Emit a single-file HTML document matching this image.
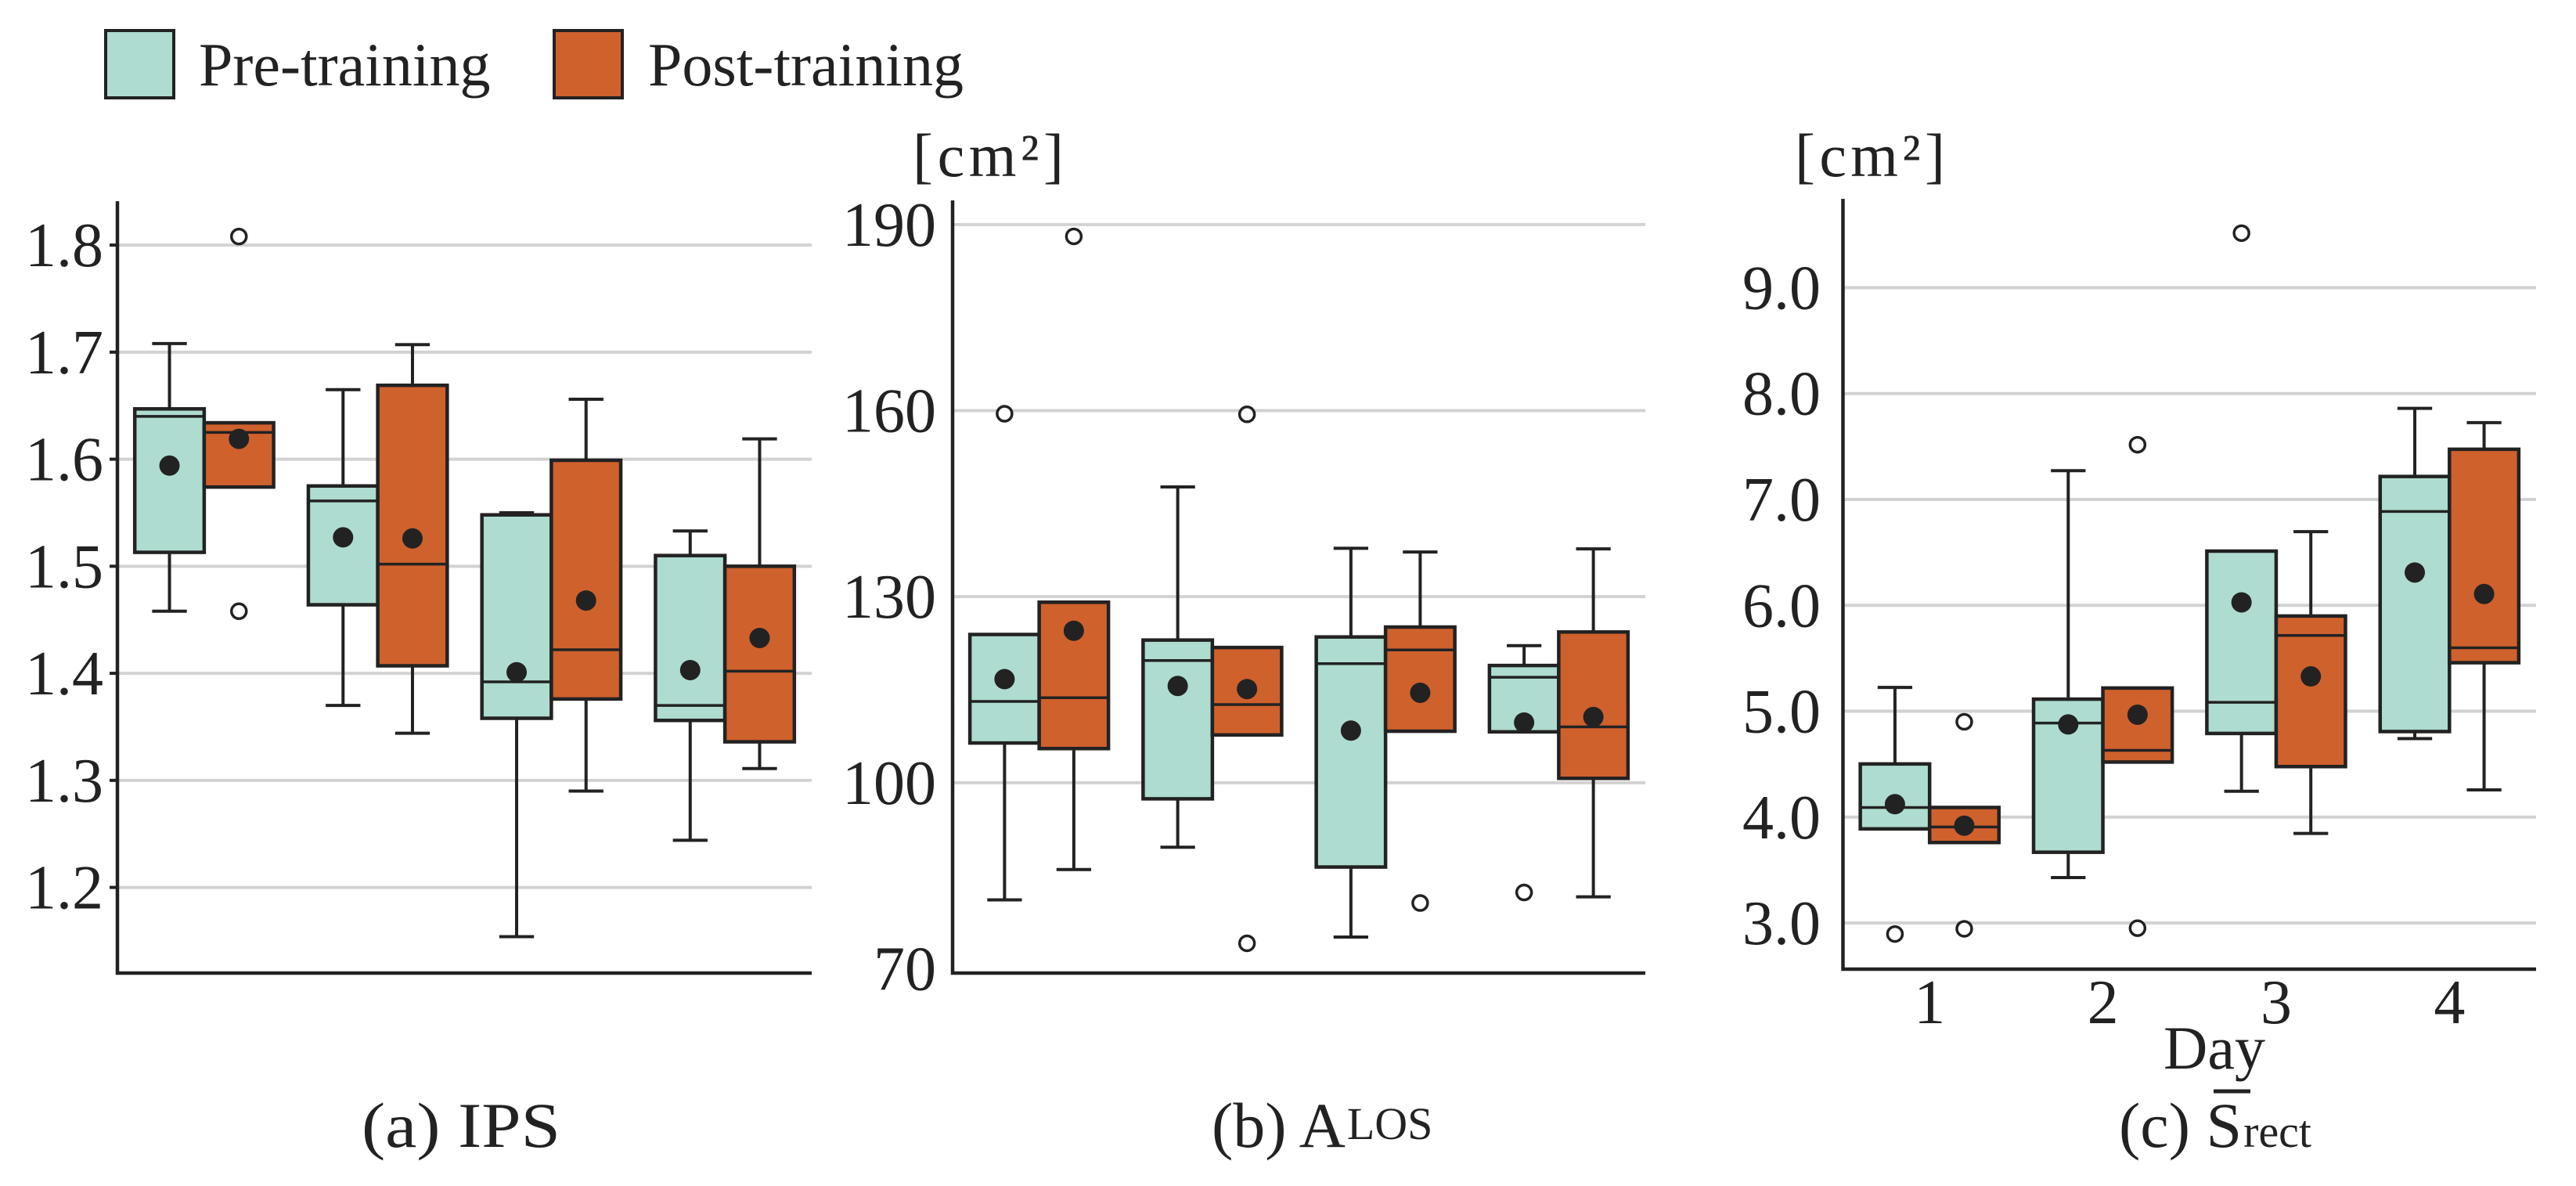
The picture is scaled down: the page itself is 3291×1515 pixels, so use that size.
<!DOCTYPE html>
<html><head><meta charset="utf-8"><style>
html,body{margin:0;padding:0;background:#fff;}
svg{display:block;font-family:"Liberation Serif",serif;}
</style></head><body>
<svg id="fig" width="3291" height="1515" viewBox="0 0 3291 1515" xmlns="http://www.w3.org/2000/svg">
<g>
 <rect x="135" y="39" width="87" height="86" fill="#aedcd0" stroke="#222" stroke-width="4"/>
 <text x="254" y="109" font-size="78" fill="#222">Pre-training</text>
 <rect x="708" y="39" width="87" height="86" fill="#cf612d" stroke="#222" stroke-width="4"/>
 <text x="828" y="109" font-size="78" fill="#222">Post-training</text>
</g>
<text x="462" y="1465" font-size="82" fill="#222" textLength="254" lengthAdjust="spacingAndGlyphs">(a) IPS</text>
<text x="1548" y="1465" font-size="82" fill="#222">(b) A<tspan font-size="58" dx="2" dy="-10">LOS</tspan></text>
<text x="2707" y="1465" font-size="82" fill="#222">(c) S<tspan font-size="58" dx="2">rect</tspan></text>
<line x1="2828" y1="1394" x2="2875" y2="1394" stroke="#222" stroke-width="5"/>
<text x="1166" y="225" font-size="78" fill="#222" textLength="193">[cm²]</text>
<text x="2293" y="225" font-size="78" fill="#222" textLength="192">[cm²]</text>
<text x="2829" y="1365" font-size="78" fill="#222" text-anchor="middle">Day</text>
</svg>
<script>
// ---- data ----
const days = ["1","2","3","4"];
// Panel A (IPS)
const aPreHi  = [1.708,1.665,1.550,1.533];
const aPreQ3  = [1.647,1.575,1.548,1.510];
const aPreMed = [1.640,1.561,1.392,1.370];
const aPreQ1  = [1.513,1.464,1.358,1.356];
const aPreLo  = [1.458,1.370,1.154,1.244];
const aPreMean= [1.594,1.527,1.401,1.403];
const aPreOut = [[],[],[],[]];
const aPostHi  = [1.634,1.707,1.656,1.619];
const aPostQ3  = [1.634,1.669,1.599,1.500];
const aPostMed = [1.625,1.502,1.422,1.402];
const aPostQ1  = [1.574,1.407,1.376,1.336];
const aPostLo  = [1.574,1.344,1.290,1.311];
const aPostMean= [1.619,1.526,1.468,1.433];
const aPostOut = [[1.808,1.458],[],[],[]];
const aTicks = [1.2,1.3,1.4,1.5,1.6,1.7,1.8];
const aTickLabels = ["1.2","1.3","1.4","1.5","1.6","1.7","1.8"];
// Panel B (A_LOS)
const bPreHi  = [123.9,147.7,137.8,122.1];
const bPreQ3  = [123.9,123.0,123.5,118.9];
const bPreMed = [113.1,119.7,119.2,117.0];
const bPreQ1  = [106.4,97.4,86.4,108.2];
const bPreLo  = [81.1,89.6,75.1,108.2];
const bPreMean= [116.7,115.6,108.4,109.7];
const bPreOut = [[159.5],[],[],[82.3]];
const bPostHi  = [129.1,121.8,137.2,137.7];
const bPostQ3  = [129.1,121.8,125.1,124.3];
const bPostMed = [113.7,112.6,121.4,109.0];
const bPostQ1  = [105.5,107.7,108.3,100.7];
const bPostLo  = [86.0,107.7,108.3,81.6];
const bPostMean= [124.5,115.1,114.5,110.6];
const bPostOut = [[188.1],[159.4,74.1],[80.6],[]];
const bTicks = [70,100,130,160,190];
const bTickLabels = ["70","100","130","160","190"];
// Panel C (S_rect)
const cPreHi  = [5.225,7.272,6.512,7.860];
const cPreQ3  = [4.502,5.114,6.512,7.217];
const cPreMed = [4.091,4.888,5.084,6.886];
const cPreQ1  = [3.889,3.668,4.790,4.808];
const cPreLo  = [3.889,3.429,4.244,4.741];
const cPreMean= [4.122,4.875,6.028,6.310];
const cPreOut = [[2.896],[],[9.515],[]];
const cPostHi  = [4.091,5.219,6.696,7.725];
const cPostQ3  = [4.091,5.219,5.899,7.474];
const cPostMed = [3.907,4.630,5.715,5.599];
const cPostQ1  = [3.760,4.520,4.477,5.458];
const cPostLo  = [3.760,4.520,3.846,4.257];
const cPostMean= [3.919,4.967,5.329,6.107];
const cPostOut = [[4.900,2.945],[7.517,2.951],[],[]];
const cTicks = [3,4,5,6,7,8,9];
const cTickLabels = ["3.0","4.0","5.0","6.0","7.0","8.0","9.0"];

const NS="http://www.w3.org/2000/svg";
const svg=document.getElementById('fig');
function mk(tag,attrs,parent){const e=document.createElementNS(NS,tag);for(const k in attrs)e.setAttribute(k,attrs[k]);(parent||svg).appendChild(e);return e;}

function panel(id,geo,ticks,tickLabels,series,showX,tickMarks){
  const g=mk('g',{});
  
  
  const yS=v=>geo.yBot-(v-geo.ymin)/(geo.ymax-geo.ymin)*(geo.yBot-geo.yTop);
  const band=(geo.x1-geo.x0)/days.length;
  const xC=i=>geo.x0+band*(i+0.5);
  ticks.forEach((t,i)=>{
    if(yS(t)<geo.yBot-15){
      const gl=mk('line',{x1:geo.x0,x2:geo.x1,y1:yS(t),y2:yS(t),stroke:'#d2d2d2','stroke-width':4},g);
      
      
    }
    const tl=mk('text',{x:geo.labelX,y:yS(t)+27,'font-size':80,fill:'#222','text-anchor':'end'},g);
    tl.textContent=tickLabels[i];
    
    
    if(tickMarks){const tm=mk('line',{x1:geo.x0-10,x2:geo.x0,y1:yS(t),y2:yS(t),stroke:'#222','stroke-width':4},g);
      
      }
  });
  const bw=band*0.4;
  series.forEach((s,si)=>{
    days.forEach((d,i)=>{
      const cx=xC(i)+(si===0?-bw/2:bw/2);
      const bg=mk('g',{},g);
      
      
      const st={stroke:'#222','stroke-width':4};
      mk('line',Object.assign({x1:cx,x2:cx,y1:yS(s.hi[i]),y2:yS(s.q3[i])},st),bg);
      mk('line',Object.assign({x1:cx,x2:cx,y1:yS(s.q1[i]),y2:yS(s.lo[i])},st),bg);
      if(s.hi[i]>s.q3[i]) mk('line',Object.assign({x1:cx-bw/4,x2:cx+bw/4,y1:yS(s.hi[i]),y2:yS(s.hi[i])},st),bg);
      if(s.lo[i]<s.q1[i]) mk('line',Object.assign({x1:cx-bw/4,x2:cx+bw/4,y1:yS(s.lo[i]),y2:yS(s.lo[i])},st),bg);
      mk('rect',{x:cx-bw/2,y:yS(s.q3[i]),width:bw,height:yS(s.q1[i])-yS(s.q3[i]),fill:s.color,stroke:'#222','stroke-width':4.5},bg);
      mk('line',{x1:cx-bw/2,x2:cx+bw/2,y1:yS(s.med[i]),y2:yS(s.med[i]),stroke:'#222','stroke-width':3.5},bg);
      const m=mk('ellipse',{cx:cx,cy:yS(s.mean[i]),rx:13,ry:13,fill:'#222'},bg);
      
      
      s.out[i].forEach(v=>{
        const o=mk('circle',{cx:cx,cy:yS(v),r:9.5,fill:'#fff',stroke:'#222','stroke-width':3.5},bg);
        
        
      });
    });
  });
  const ax=mk('path',{d:`M${geo.x0},${geo.yTop} V${geo.yBot} H${geo.x1}`,fill:'none',stroke:'#222','stroke-width':4.5},g);
  
  
  if(showX){
    days.forEach((d,i)=>{
      const xl=mk('text',{x:xC(i),y:1307,'font-size':80,fill:'#222','text-anchor':'middle'},g);
      xl.textContent=d;
      
      
    });
  }
}
const PRE='#aedcd0', POST='#cf612d';
panel('a',{x0:150,x1:1037,yTop:257,yBot:1243,ymin:1.12,ymax:1.841,labelX:132},aTicks,aTickLabels,[
 {name:'pre',color:PRE,hi:aPreHi,q3:aPreQ3,med:aPreMed,q1:aPreQ1,lo:aPreLo,mean:aPreMean,out:aPreOut},
 {name:'post',color:POST,hi:aPostHi,q3:aPostQ3,med:aPostMed,q1:aPostQ1,lo:aPostLo,mean:aPostMean,out:aPostOut}],false,true);
panel('b',{x0:1217,x1:2102,yTop:256,yBot:1243,ymin:69.3,ymax:193.9,labelX:1196},bTicks,bTickLabels,[
 {name:'pre',color:PRE,hi:bPreHi,q3:bPreQ3,med:bPreMed,q1:bPreQ1,lo:bPreLo,mean:bPreMean,out:bPreOut},
 {name:'post',color:POST,hi:bPostHi,q3:bPostQ3,med:bPostMed,q1:bPostQ1,lo:bPostLo,mean:bPostMean,out:bPostOut}],false,false);
panel('c',{x0:2354.5,x1:3240,yTop:254,yBot:1238,ymin:2.564,ymax:9.839,labelX:2326},cTicks,cTickLabels,[
 {name:'pre',color:PRE,hi:cPreHi,q3:cPreQ3,med:cPreMed,q1:cPreQ1,lo:cPreLo,mean:cPreMean,out:cPreOut},
 {name:'post',color:POST,hi:cPostHi,q3:cPostQ3,med:cPostMed,q1:cPostQ1,lo:cPostLo,mean:cPostMean,out:cPostOut}],true,false);
</script>
</body></html>
